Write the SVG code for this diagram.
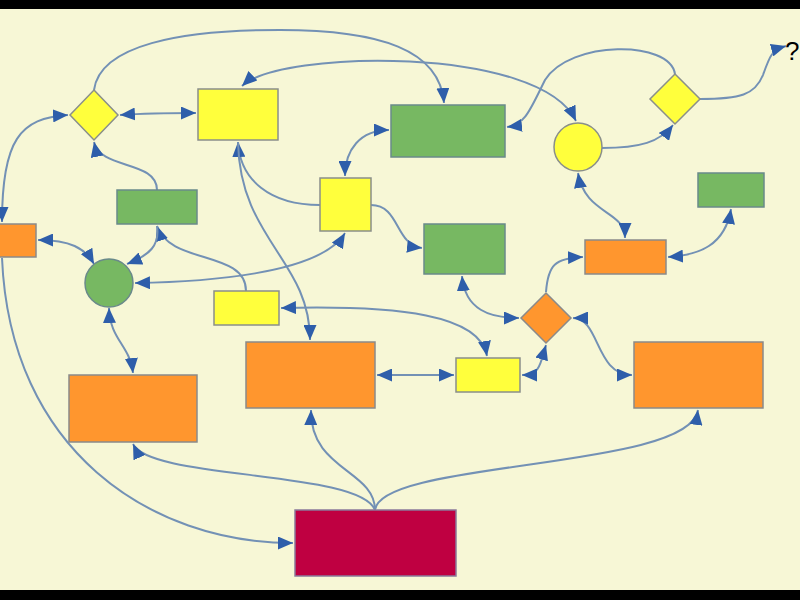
<svg xmlns="http://www.w3.org/2000/svg" width="800" height="600" viewBox="0 0 800 600">
<defs>
<marker id="ah" viewBox="0 0 15 13" refX="15" refY="6.5" markerWidth="15" markerHeight="13" markerUnits="userSpaceOnUse" orient="auto-start-reverse">
<path d="M0,0 L15,6.5 L0,13 Z" fill="#2E5EAA"/>
</marker>
</defs>
<style>
.y{fill:#FFFF3C;stroke:#8A8F8A;stroke-width:1.5}
.g{fill:#77B862;stroke:#6A8A8A;stroke-width:1.5}
.o{fill:#FF962E;stroke:#8A8A8A;stroke-width:1.5}
.r{fill:#BF0041;stroke:#8A7A9A;stroke-width:1.5}
#edges path{fill:none;stroke:#7391B5;stroke-width:2}
.e1{marker-end:url(#ah)}
.e2{marker-start:url(#ah);marker-end:url(#ah)}
</style>
<rect x="0" y="0" width="800" height="600" fill="#F7F7D6"/>
<rect x="0" y="0" width="800" height="9" fill="#000"/>
<rect x="0" y="590" width="800" height="10" fill="#000"/>
<text x="785" y="60" font-family="Liberation Sans, Arial, sans-serif" font-size="26" fill="#000">?</text>
<g id="edges">
<path class="e1" d="M94,90 C100,45 180,30 280,30 C380,30 440,50 444,103"/>
<path class="e2" d="M120,115 C150,113 170,113 196,113"/>
<path class="e2" d="M2,222 C2,140 20,118 68,115"/>
<path class="e1" d="M2,258 C10,450 150,543 293,543"/>
<path class="e1" d="M320,205 C270,205 240,180 238,142"/>
<path class="e1" d="M238,142 C240,240 310,260 310,340"/>
<path class="e2" d="M242,86 C280,50 540,45 576,121"/>
<path class="e1" d="M675,74 C670,40 570,40 545,80 C530,110 525,125 507,127"/>
<path class="e1" d="M602,148 C640,148 660,142 673,125"/>
<path class="e1" d="M700,99 C740,99 755,95 763,75 C770,55 772,50 786,46"/>
<path class="e2" d="M578,173 C585,215 625,210 625,238"/>
<path class="e2" d="M731,209 C725,245 700,255 668,257"/>
<path class="e1" d="M546,292 C548,265 555,258 583,257"/>
<path class="e2" d="M462,276 C465,310 490,318 519,318"/>
<path class="e2" d="M546,345 C540,365 540,375 522,375"/>
<path class="e2" d="M573,318 C600,318 595,375 632,375"/>
<path class="e2" d="M377,375 C400,375 430,375 454,375"/>
<path class="e2" d="M281,308 C400,305 480,315 487,356"/>
<path class="e1" d="M371,205 C400,205 395,245 422,248"/>
<path class="e2" d="M345,176 C345,150 360,130 389,130"/>
<path class="e2" d="M135,283 C200,282 320,275 345,233"/>
<path class="e1" d="M246,291 C246,250 170,265 157,226"/>
<path class="e1" d="M157,226 C160,245 150,255 127,264"/>
<path class="e1" d="M157,190 C157,160 100,170 94,142"/>
<path class="e2" d="M38,240 C70,240 85,248 94,264"/>
<path class="e2" d="M109,308 C110,340 130,345 133,373"/>
<path class="e1" d="M375,510 C360,470 150,480 133,444"/>
<path class="e1" d="M375,510 C375,470 310,470 311,410"/>
<path class="e1" d="M375,510 C380,460 690,470 698,410"/>
</g>
<g id="n-diamond-left"><polygon class="y" points="94,90 118,115 94,140 70,115"/></g>
<g id="n-yellow-top"><rect class="y" x="198" y="89" width="80" height="51"/></g>
<g id="n-green-top"><rect class="g" x="391" y="105" width="114" height="52"/></g>
<g id="n-yellow-circle"><circle class="y" cx="578" cy="147" r="24"/></g>
<g id="n-diamond-right"><polygon class="y" points="675,74 700,99 675,124 650,99"/></g>
<g id="n-green-small-right"><rect class="g" x="698" y="173" width="66" height="34"/></g>
<g id="n-orange-left-partial"><rect class="o" x="-10" y="224" width="46" height="33"/></g>
<g id="n-green-left"><rect class="g" x="117" y="190" width="80" height="34"/></g>
<g id="n-green-circle"><circle class="g" cx="109" cy="283" r="24"/></g>
<g id="n-yellow-square"><rect class="y" x="320" y="178" width="51" height="53"/></g>
<g id="n-green-mid"><rect class="g" x="424" y="224" width="81" height="50"/></g>
<g id="n-orange-small-right"><rect class="o" x="585" y="240" width="81" height="34"/></g>
<g id="n-yellow-small-left"><rect class="y" x="214" y="291" width="65" height="34"/></g>
<g id="n-orange-diamond"><polygon class="o" points="546,293 571,318 546,343 521,318"/></g>
<g id="n-orange-center"><rect class="o" x="246" y="342" width="129" height="66"/></g>
<g id="n-yellow-small-right"><rect class="y" x="456" y="358" width="64" height="34"/></g>
<g id="n-orange-big-right"><rect class="o" x="634" y="342" width="129" height="66"/></g>
<g id="n-orange-left-big"><rect class="o" x="69" y="375" width="128" height="67"/></g>
<g id="n-crimson"><rect class="r" x="295" y="510" width="161" height="66"/></g>
</svg>
